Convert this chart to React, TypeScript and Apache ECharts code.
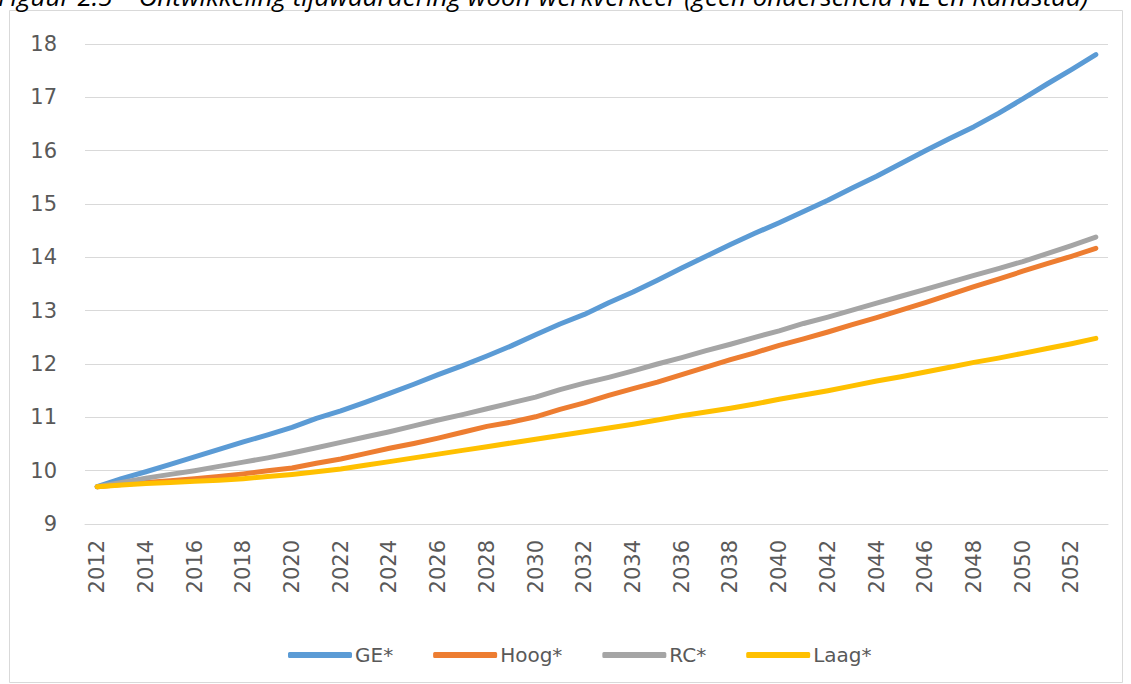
import React, { useEffect, useRef } from "react";
import * as echarts from "echarts";

const years = [
  2012, 2013, 2014, 2015, 2016, 2017, 2018, 2019, 2020, 2021, 2022, 2023, 2024, 2025,
  2026, 2027, 2028, 2029, 2030, 2031, 2032, 2033, 2034, 2035, 2036, 2037, 2038, 2039,
  2040, 2041, 2042, 2043, 2044, 2045, 2046, 2047, 2048, 2049, 2050, 2051, 2052, 2053,
];

const ge = [
  9.7, 9.85, 9.98, 10.12, 10.26, 10.4, 10.54, 10.67, 10.81, 10.98, 11.12, 11.28, 11.45, 11.62,
  11.8, 11.97, 12.15, 12.34, 12.55, 12.75, 12.93, 13.15, 13.35, 13.57, 13.8, 14.02, 14.24, 14.45,
  14.65, 14.86, 15.07, 15.3, 15.52, 15.76, 16.0, 16.23, 16.45, 16.7, 16.97, 17.25, 17.52, 17.8,
];

const hoog = [
  9.7, 9.74, 9.78, 9.81, 9.85, 9.89, 9.94, 10.0, 10.05, 10.14, 10.22, 10.32, 10.42, 10.51,
  10.61, 10.72, 10.83, 10.91, 11.01, 11.15, 11.27, 11.41, 11.54, 11.66, 11.8, 11.94, 12.08, 12.21,
  12.35, 12.47, 12.6, 12.74, 12.87, 13.01, 13.15, 13.3, 13.45, 13.59, 13.74, 13.88, 14.02, 14.17,
];

const rc = [
  9.7, 9.78, 9.86, 9.93, 10.0, 10.08, 10.16, 10.24, 10.33, 10.43, 10.53, 10.63, 10.73, 10.84,
  10.95, 11.05, 11.16, 11.27, 11.38, 11.52, 11.64, 11.75, 11.87, 12.0, 12.12, 12.25, 12.37, 12.5,
  12.62, 12.76, 12.88, 13.01, 13.14, 13.27, 13.4, 13.53, 13.66, 13.79, 13.92, 14.07, 14.22, 14.38,
];

const laag = [
  9.7, 9.73, 9.76, 9.78, 9.8, 9.82, 9.85, 9.89, 9.93, 9.98, 10.03, 10.1, 10.17, 10.24,
  10.31, 10.38, 10.45, 10.52, 10.59, 10.66, 10.73, 10.8, 10.87, 10.95, 11.03, 11.1, 11.17, 11.25,
  11.34, 11.42, 11.5, 11.59, 11.68, 11.76, 11.85, 11.94, 12.03, 12.11, 12.2, 12.29, 12.38, 12.48,
];

const seriesNames = ["GE*", "Hoog*", "RC*", "Laag*"];
const seriesColors = ["#5B9BD5", "#ED7D31", "#A5A5A5", "#FFC000"];
const seriesData = [ge, hoog, rc, laag];

const titleText =
  "Figuur 2.5 \u2013 Ontwikkeling tijdwaardering woon-werkverkeer (geen onderscheid NL en Randstad)";

const FONT = "'DejaVu Sans', 'Noto Sans', sans-serif";
const TITLE_FONT = "'Open Sans', 'Noto Sans', sans-serif";

export default function App() {
  const ref = useRef<HTMLDivElement>(null);

  useEffect(() => {
    if (!ref.current) return;
    const chart = echarts.init(ref.current, null, { renderer: "svg" });
    chart.setOption({
      animation: false,
      backgroundColor: "#ffffff",
      textStyle: { fontFamily: FONT },
      graphic: [
        {
          type: "rect",
          shape: { x: 9.5, y: 10.5, width: 1113, height: 672 },
          style: { fill: "#ffffff", stroke: "#D9D9D9", lineWidth: 1 },
          z: -10,
        },
        {
          type: "text",
          x: -2,
          y: 9,
          style: {
            text: titleText,
            font: `italic 26px ${TITLE_FONT}`,
            fill: "#000000",
            verticalAlign: "bottom",
          },
        },
      ],
      grid: { left: 85, right: 23, top: 44, bottom: 160, containLabel: false },
      legend: {
        data: seriesNames,
        left: 283,
        top: 640,
        itemWidth: 64,
        itemHeight: 6,
        itemGap: 40,
        icon: "roundRect",
        textStyle: { color: "#595959", fontSize: 20, fontFamily: FONT, padding: [0, 0, 0, -2] },
      },
      xAxis: {
        type: "category",
        data: years.map(String),
        boundaryGap: true,
        axisLine: { show: true, lineStyle: { color: "#D9D9D9", width: 1 } },
        axisTick: { show: false },
        axisLabel: {
          interval: 1,
          rotate: 90,
          color: "#595959",
          fontSize: 21,
          margin: 16,
          fontFamily: FONT,
        },
        splitLine: { show: false },
      },
      yAxis: {
        type: "value",
        min: 9,
        max: 18,
        interval: 1,
        axisLine: { show: false },
        axisTick: { show: false },
        axisLabel: { color: "#595959", fontSize: 21, margin: 28, fontFamily: FONT },
        splitLine: { lineStyle: { color: "#D9D9D9", width: 1 } },
      },
      series: seriesNames.map((name, i) => ({
        name,
        type: "line",
        data: seriesData[i],
        showSymbol: false,
        symbol: "none",
        smooth: false,
        lineStyle: { color: seriesColors[i], width: 5, cap: "round", join: "round" },
        itemStyle: { color: seriesColors[i] },
      })),
    });
    return () => chart.dispose();
  }, []);

  return (
    <div
      ref={ref}
      style={{ position: "absolute", left: 0, top: 0, width: 1131, height: 684 }}
    />
  );
}
